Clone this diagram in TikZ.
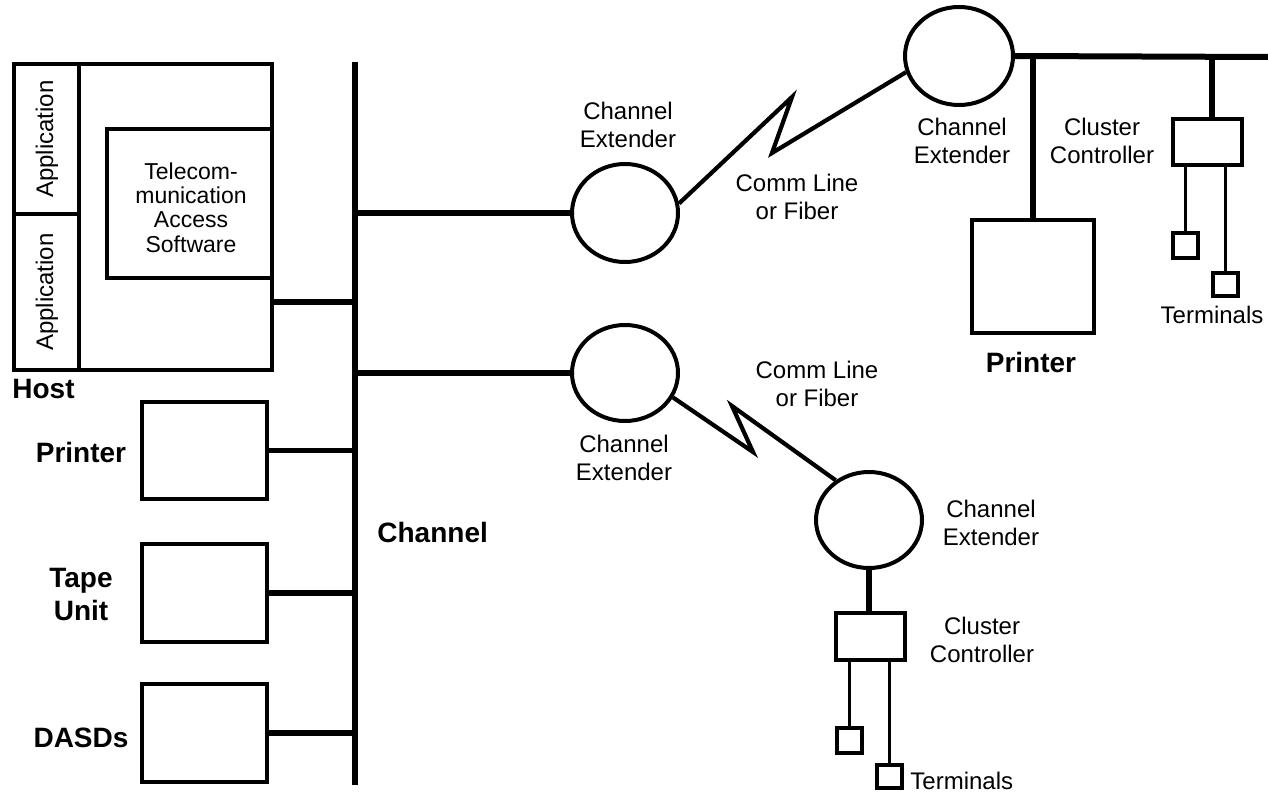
\documentclass[tikz,border=0pt]{standalone}
\usepackage{fontspec}
\setmainfont{Liberation Sans}
\usetikzlibrary{shapes.geometric,fit}
\tikzset{
  busline/.style={line width=3pt},
  branchline/.style={line width=2.6pt},
  thinline/.style={line width=1.6pt},
  zigline/.style={line width=2.1pt, line join=miter},
  boxst/.style={draw, line width=1.8pt, inner sep=0pt},
  extst/.style={draw, ellipse, line width=2pt, inner sep=0pt, minimum width=53pt, minimum height=49pt},
  lbl/.style={font=\fontsize{12}{14}\selectfont, align=center, inner sep=0pt},
  blbl/.style={font=\bfseries\fontsize{14}{16.5}\selectfont, align=center, inner sep=0pt},
}
\begin{document}
\begin{tikzpicture}[x=0.5pt,y=-0.5pt]
\useasboundingbox (0,0) rectangle (1268,797);

% Host
\node[boxst, fit={(14,64)(272,370)}] (host) {};
\node[boxst, fit={(107,129)(272,278)}] (tcas) {};
\coordinate (appdivtop) at (79,64);
\coordinate (appdivbot) at (79,370);
\coordinate (appmidl) at (14,214);
\coordinate (appmidr) at (79,214);
\draw[line width=1.8pt] (appdivtop) -- (appdivbot);
\draw[line width=1.8pt] (appmidl) -- (appmidr);
\node[lbl, rotate=90] (app1) at (47,139) {Application};
\node[lbl, rotate=90] (app2) at (47,292) {Application};
\node[font=\fontsize{11.5}{12.2}\selectfont, align=center, inner sep=0pt] (tcastext) at (191,207.5) {Telecom-\\munication\\Access\\Software};
\node[blbl, anchor=base west] (hostlbl) at (12,398) {Host};

% Channel bus
\coordinate (bustop) at (355,62);
\coordinate (busbot) at (355,785);
\draw[busline] (bustop) -- (busbot);
\node[blbl, anchor=base west] (chanlbl) at (377,542) {Channel};

% Host connection
\coordinate (hostconn) at (355,302);
\draw[branchline] (host.east |- hostconn) -- (hostconn);

% Peripheral boxes
\node[boxst, fit={(142,402)(267,499)}] (prt) {};
\node[boxst, fit={(142,544)(267,642)}] (tape) {};
\node[boxst, fit={(142,684)(267,782)}] (dasd) {};
\draw[branchline] (prt.east) -- (prt.east -| bustop);
\draw[branchline] (tape.east) -- (tape.east -| bustop);
\draw[branchline] (dasd.east) -- (dasd.east -| bustop);
\node[blbl, anchor=base] (prtlbl) at (81,462) {Printer};
\node[blbl] (tapelbl) at (81,594) {Tape\\[0pt]Unit};
\node[blbl, anchor=base] (dasdlbl) at (81,747) {DASDs};

% Upper channel extenders
\node[extst] (ul) at (625,213) {};
\node[extst, minimum width=54pt] (ur) at (959,56) {};
\draw[branchline] (ul.west -| bustop) -- (ul.west);
\coordinate (zz1) at (792,97);
\coordinate (zz2) at (772,153);
\draw[zigline] (ul.10) -- (zz1) -- (zz2) -- (ur.197);
\node[lbl] (ullbl) at (628,124.5) {Channel\\Extender};
\node[lbl] (comm1) at (797,197) {Comm Line\\or Fiber};
\node[lbl] (urlbl) at (962,141) {Channel\\Extender};

% Upper right bus
\coordinate (busend) at (1268,57);
\draw[busline] (ur.east) -- (busend);
\node[boxst, fit={(972,220)(1094,333)}] (prt2) {};
\draw[branchline] (prt2.north |- busend) -- (prt2.north);
\node[blbl, anchor=base] (prt2lbl) at (1031,372) {Printer};
\coordinate (dropx) at (1212,57);
\node[boxst, fit={(1173,119)(1242,165)}] (cc1) {};
\draw[branchline] (dropx) -- (dropx |- cc1.north);
\node[boxst, fit={(1173,233)(1198,258)}] (t1) {};
\node[boxst, fit={(1213,273)(1238,296)}] (t2) {};
\draw[thinline] (t1.north |- cc1.south) -- (t1.north);
\draw[thinline] (t2.north |- cc1.south) -- (t2.north);
\node[lbl] (cc1lbl) at (1102,141) {Cluster\\Controller};
\node[lbl, anchor=base] (term1) at (1212,323) {Terminals};

% Lower channel extenders
\node[extst, minimum height=48pt] (ll) at (625,373) {};
\node[extst, minimum height=48pt] (lr) at (869,520) {};
\draw[branchline] (ll.west -| bustop) -- (ll.west);
\coordinate (zz3) at (753,452);
\coordinate (zz4) at (732,406);
\draw[zigline] (ll.-27) -- (zz3) -- (zz4) -- (lr.130);
\node[lbl] (lllbl) at (624,457.5) {Channel\\Extender};
\node[lbl] (comm2) at (817,384) {Comm Line\\or Fiber};
\node[lbl] (lrlbl) at (991,522.5) {Channel\\Extender};

% Lower cluster
\node[boxst, fit={(836,613)(905,660)}] (cc2) {};
\draw[branchline] (lr.south) -- (lr.south |- cc2.north);
\node[boxst, fit={(837,728)(862,753)}] (t3) {};
\node[boxst, fit={(877,765)(902,788)}] (t4) {};
\draw[thinline] (t3.north |- cc2.south) -- (t3.north);
\draw[thinline] (t4.north |- cc2.south) -- (t4.north);
\node[lbl] (cc2lbl) at (982,640) {Cluster\\Controller};
\node[lbl, anchor=base west] (term2) at (910,789) {Terminals};
\end{tikzpicture}
\end{document}
